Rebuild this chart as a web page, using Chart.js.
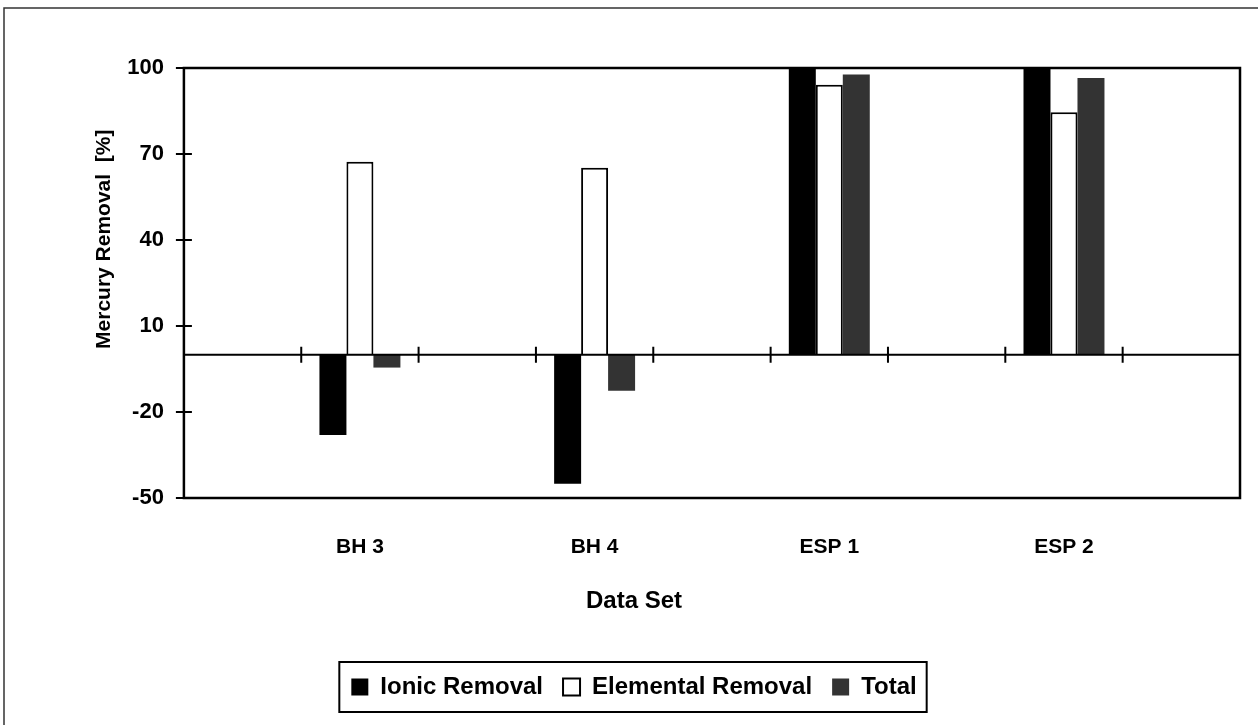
<!DOCTYPE html>
<html>
<head>
<meta charset="utf-8">
<script src="https://cdn.jsdelivr.net/npm/chart.js@4.4.1/dist/chart.umd.min.js"></script>
<style>
  html, body { margin: 0; padding: 0; background: #fff; }
  canvas { display: block; }
</style>
</head>
<body>
<canvas id="chart" width="1258" height="725"></canvas>
<script>
// blank slots between data sets, as in the original sheet
const categories = ['', 'BH 3', '', 'BH 4', '', 'ESP 1', '', 'ESP 2', ''];
const ionic = [null, -28, null, -45, null, 100, null, 100, null];
const elemental = [null, 67.3, null, 65.2, null, 94.2, null, 84.6, null];
const total = [null, -4.5, null, -12.6, null, 97.7, null, 96.5, null];
const yTicks = [-50, -20, 10, 40, 70, 100];

const FONT = "'Liberation Sans', Arial, Helvetica, sans-serif";

const framePlugin = {
  id: 'frame',
  beforeDraw(chart) {
    const ctx = chart.ctx;
    ctx.save();
    ctx.fillStyle = '#fff';
    ctx.fillRect(0, 0, chart.width, chart.height);
    // outer border of the figure
    ctx.strokeStyle = '#333';
    ctx.lineWidth = 1.5;
    ctx.beginPath();
    ctx.moveTo(4, chart.height);
    ctx.lineTo(4, 8);
    ctx.lineTo(chart.width, 8);
    ctx.stroke();
    ctx.restore();
  },
  afterDatasetsDraw(chart) {
    const ctx = chart.ctx;
    const a = chart.chartArea;
    const x = chart.scales.x, y = chart.scales.y;
    ctx.save();
    ctx.strokeStyle = '#000';
    ctx.lineWidth = 2.5;
    ctx.strokeRect(a.left, a.top, a.right - a.left, a.bottom - a.top);
    // y tick marks crossing the axis
    ctx.lineWidth = 2;
    ctx.beginPath();
    yTicks.forEach(v => {
      const py = y.getPixelForValue(v);
      ctx.moveTo(a.left - 8, py);
      ctx.lineTo(a.left + 8, py);
    });
    // zero line with category tick marks
    const y0 = y.getPixelForValue(0);
    ctx.moveTo(a.left, y0);
    ctx.lineTo(a.right, y0);
    for (let i = 1; i < categories.length; i++) {
      const px = (x.getPixelForValue(i - 1) + x.getPixelForValue(i)) / 2;
      ctx.moveTo(px, y0 - 8);
      ctx.lineTo(px, y0 + 8);
    }
    ctx.stroke();
    ctx.restore();
  },
  afterDraw(chart) {
    const boxes = chart.legend && chart.legend.legendHitBoxes;
    if (!boxes || !boxes.length) return;
    const first = boxes[0], last = boxes[boxes.length - 1];
    const ctx = chart.ctx;
    ctx.save();
    ctx.strokeStyle = '#000';
    ctx.lineWidth = 2;
    const l = first.left - 12, r = last.left + last.width + 10;
    ctx.strokeRect(l, first.top - 13, r - l, first.height + 26);
    ctx.restore();
  }
};

new Chart(document.getElementById('chart'), {
  type: 'bar',
  data: {
    labels: categories,
    datasets: [
      { label: 'Ionic Removal', data: ionic, backgroundColor: '#000', borderWidth: 0 },
      { label: 'Elemental Removal', data: elemental, backgroundColor: '#fff', borderColor: '#000', borderWidth: 2 },
      { label: 'Total', data: total, backgroundColor: '#333', borderWidth: 0 }
    ]
  },
  options: {
    responsive: false,
    animation: false,
    layout: { padding: { left: 28, right: 18, top: 68, bottom: 16 } },
    datasets: { bar: { categoryPercentage: 0.69, barPercentage: 1 } },
    scales: {
      x: {
        grid: { drawOnChartArea: false, drawTicks: true, tickLength: 35, tickColor: 'rgba(0,0,0,0)' },
        border: { display: false },
        ticks: {
          autoSkip: false, maxRotation: 0, padding: 2, color: '#000',
          font: { family: FONT, size: 21, weight: 'bold' }
        }
      },
      y: {
        min: -50, max: 100,
        grid: { drawOnChartArea: false, drawTicks: true, tickLength: 10, tickColor: 'rgba(0,0,0,0)' },
        border: { display: false },
        afterBuildTicks: s => { s.ticks = yTicks.map(v => ({ value: v })); },
        ticks: {
          padding: 10, color: '#000',
          font: { family: FONT, size: 22, weight: 'bold' }
        },
        title: {
          display: true,
          text: '               Mercury Removal  [%]',
          color: '#000',
          font: { family: FONT, size: 21, weight: 'bold' },
          padding: { top: 64, bottom: 0 }
        }
      }
    },
    plugins: {
      title: {
        display: true, text: 'Data Set', position: 'bottom', weight: 500,
        color: '#000',
        font: { family: FONT, size: 24, weight: 'bold' },
        padding: { top: 25, bottom: 39 }
      },
      legend: {
        position: 'bottom',
        labels: {
          color: '#000', boxWidth: 17, boxHeight: 17, padding: 20,
          font: { family: FONT, size: 24, weight: 'bold' }
        }
      },
      tooltip: { enabled: false }
    }
  },
  plugins: [framePlugin]
});
</script>
</body>
</html>
